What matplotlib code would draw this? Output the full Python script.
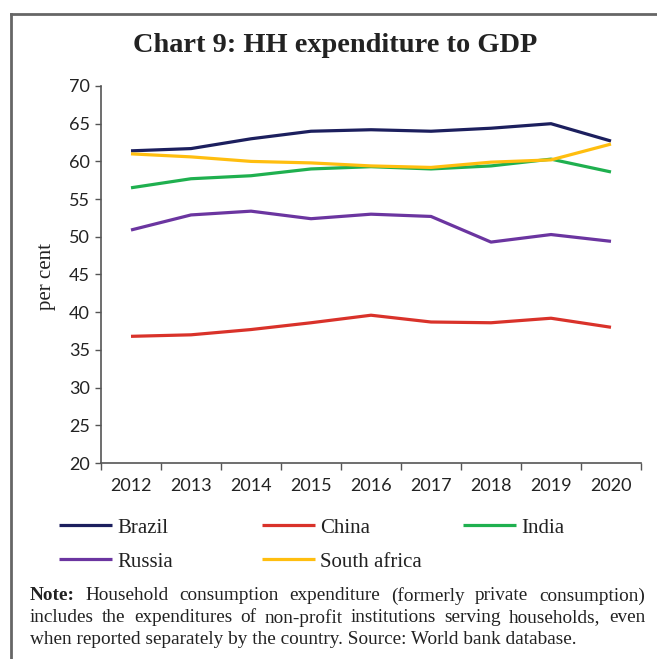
import matplotlib
matplotlib.use("Agg")
from matplotlib import pyplot as plt
from matplotlib.lines import Line2D

years = ["2012", "2013", "2014", "2015", "2016", "2017", "2018", "2019", "2020"]
brazil = [61.4, 61.7, 63.0, 64.0, 64.2, 64.0, 64.4, 65.0, 62.7]
china = [36.8, 37.0, 37.7, 38.6, 39.6, 38.7, 38.6, 39.2, 38.0]
india = [56.5, 57.7, 58.1, 59.0, 59.3, 59.0, 59.4, 60.3, 58.6]
russia = [50.9, 52.9, 53.4, 52.4, 53.0, 52.7, 49.3, 50.3, 49.4]
south_africa = [61.0, 60.6, 60.0, 59.8, 59.4, 59.2, 59.9, 60.2, 62.3]

names = ["Brazil", "China", "India", "Russia", "South africa"]
series = [brazil, china, india, russia, south_africa]
colors = ["#1c1f5e", "#d9322a", "#1fb04f", "#6b35a0", "#ffbe0f"]

note_lines = [
    ["Household", "consumption", "expenditure", "(formerly", "private", "consumption)"],
    ["includes", "the", "expenditures", "of", "non-profit", "institutions", "serving",
     "households,", "even"],
]
note_last = "when reported separately by the country. Source: World bank database."

W, H = 657, 659
fig = plt.figure(figsize=(W / 100, H / 100), dpi=100)
fig.set_facecolor("white")

serif = "Liberation Serif"
sans = "Lato"

# frame around the panel (open on right and bottom)
fig.add_artist(Line2D([11 / W, 11 / W], [0, 1 - 14 / H], color="#666666", lw=2))
fig.add_artist(Line2D([11 / W, 1], [1 - 14 / H, 1 - 14 / H], color="#666666", lw=2))

fig.text(335 / W, 1 - 46 / H, "Chart 9: HH expenditure to GDP", family=serif,
         weight="bold", fontsize=20.4, ha="center", va="center", color="#222222")

ax = fig.add_axes([101 / W, 1 - 463 / H, 540 / W, 377 / H])
x = list(range(len(years)))
for name, vals, c in zip(names, series, colors):
    ax.plot(x, vals, color=c, lw=2.3, label=name, solid_capstyle="butt")

ax.set_ylim(20, 70)
ax.set_yticks(range(20, 71, 5))
ax.set_xlim(-0.5, len(years) - 0.5)
ax.set_xticks([i - 0.5 for i in range(len(years) + 1)])
ax.set_xticklabels([])
ax.set_xticks(x, minor=True)
ax.set_xticklabels(years, minor=True)
ax.tick_params(axis="x", which="major", length=5, width=1, color="#555555", direction="out")
ax.tick_params(axis="x", which="minor", length=0, pad=11, labelsize=13, labelcolor="#222222")
ax.tick_params(axis="y", length=4, width=1, color="#555555", pad=4, labelsize=13,
               labelcolor="#222222")
for lab in ax.get_xticklabels(minor=True) + ax.get_yticklabels():
    lab.set_family(sans)
for s in ["top", "right"]:
    ax.spines[s].set_visible(False)
for s in ["left", "bottom"]:
    ax.spines[s].set_color("#555555")
    ax.spines[s].set_linewidth(1.2)

fig.text(47 / W, 1 - 276 / H, "per cent", family=serif, fontsize=15, rotation=90,
         ha="center", va="center", color="#222222")

# legend: three columns, drawn as separate legends so columns are evenly spaced
handles = ax.get_lines()
cols = [[0, 3], [1, 4], [2]]
col_x = [59, 262, 463]
for xs, idx in zip(col_x, cols):
    leg = fig.legend([handles[i] for i in idx], [names[i] for i in idx],
                     loc="upper left", bbox_to_anchor=(xs / W, 1 - 518 / H),
                     frameon=False, prop={"family": serif, "size": 15},
                     handlelength=2.55, handletextpad=0.25, borderaxespad=0,
                     borderpad=0, labelspacing=0.7)
    for t in leg.get_texts():
        t.set_color("#222222")
    for lh in leg.get_lines():
        lh.set_linewidth(2.3)

# note, first two lines justified
fig.canvas.draw()
r = fig.canvas.get_renderer()
left, right = 30, 645
ys = [596, 618, 639]
fs = 13.9
for li, words in enumerate(note_lines):
    parts = []
    if li == 0:
        parts.append(("Note:", "bold"))
    parts += [(w, "normal") for w in words]
    widths = []
    for w, wt in parts:
        t = fig.text(0, 0, w, family=serif, fontsize=fs, weight=wt)
        widths.append(t.get_window_extent(r).width)
        t.remove()
    gap = (right - left - sum(widths)) / (len(parts) - 1)
    xp = left
    for (w, wt), wd in zip(parts, widths):
        fig.text(xp / W, 1 - ys[li] / H, w, family=serif, fontsize=fs, weight=wt,
                 ha="left", va="center", color="#222222")
        xp += wd + gap
fig.text(left / W, 1 - ys[2] / H, note_last, family=serif, fontsize=fs,
         ha="left", va="center", color="#222222")

fig.savefig("out.png", dpi=100)
